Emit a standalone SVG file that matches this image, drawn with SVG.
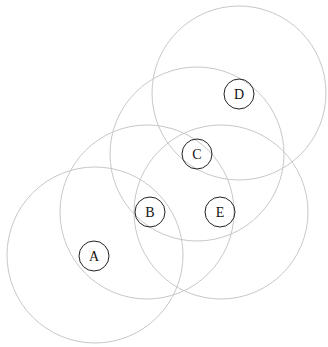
<svg xmlns="http://www.w3.org/2000/svg" width="328" height="347" viewBox="0 0 328 347">
<style>
.range{fill:none;stroke:#c8c8c8;stroke-width:1}
.node circle{fill:none;stroke:#222;stroke-width:1}
.node text{font-family:"Liberation Serif",serif;font-size:14px;fill:#111;text-anchor:middle;dominant-baseline:central}
</style>
<rect width="328" height="347" fill="#fff"/>
<g id="ranges">
<circle class="range" cx="95" cy="255" r="88"/>
<circle class="range" cx="147" cy="212" r="87"/>
<circle class="range" cx="221" cy="212" r="87"/>
<circle class="range" cx="197" cy="154" r="87"/>
<circle class="range" cx="239" cy="93" r="87"/>
</g>
<g id="connectors"></g>
<g id="A" class="node"><circle cx="94" cy="256" r="15"/><text x="94" y="256">A</text></g>
<g id="B" class="node"><circle cx="150" cy="212" r="15"/><text x="150" y="212">B</text></g>
<g id="C" class="node"><circle cx="197" cy="154" r="15"/><text x="197" y="154">C</text></g>
<g id="D" class="node"><circle cx="239" cy="94" r="15"/><text x="239" y="94">D</text></g>
<g id="E" class="node"><circle cx="220" cy="212" r="15"/><text x="220" y="212">E</text></g>
</svg>
